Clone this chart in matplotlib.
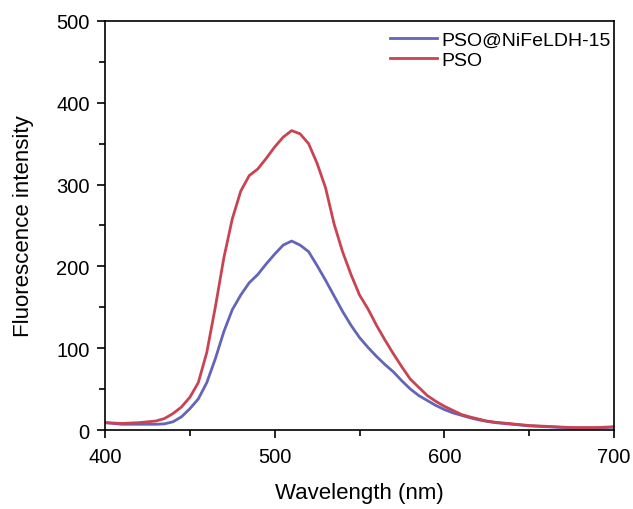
import numpy as np
import matplotlib.pyplot as plt
from matplotlib.ticker import MultipleLocator

plt.rcParams['font.family'] = ['Liberation Sans', 'DejaVu Sans']

# Longitud de onda (nm), paso de 5 nm
wavelength = list(range(400, 705, 5))

# PSO@NiFeLDH-15
nifeldh = [9, 8, 7, 7, 7, 7, 7, 7.5, 10, 16,
           26, 38, 58, 87, 120, 147, 165, 180, 190, 203,
           215, 226, 231, 226, 218, 201, 183, 164, 145, 128,
           113, 101, 90, 80, 71, 60, 50, 42, 36, 30,
           25, 21, 18, 15, 12.5, 10.5, 9, 8, 7, 6,
           5, 4.5, 4, 3.5, 3, 2.5, 2.5, 2.5, 2.5, 3,
           3.5]

# PSO
pso = [9, 8.5, 8, 8.5, 9, 10, 11, 14, 20, 28,
       40, 58, 95, 150, 210, 258, 292, 311, 319, 332,
       346, 358, 366, 362, 350, 326, 296, 252, 218, 190,
       165, 148, 128, 110, 93, 77, 62, 52, 42, 35,
       29, 24, 19, 16, 13.5, 11, 9.5, 8.5, 7.5, 6.5,
       5.5, 5, 4.5, 4, 3.5, 3, 3, 3, 3, 3.5,
       4]

fig = plt.figure(figsize=(6.33, 5.10), dpi=100)
ax = fig.add_axes([0.1659, 0.1549, 0.8041, 0.802])

ax.plot(wavelength, nifeldh, color='#6464b8', lw=2, label='PSO@NiFeLDH-15')
ax.plot(wavelength, pso, color='#c84452', lw=2, label='PSO')

ax.set_xlim(400, 700)
ax.set_ylim(0, 500)
ax.xaxis.set_major_locator(MultipleLocator(100))
ax.xaxis.set_minor_locator(MultipleLocator(50))
ax.yaxis.set_major_locator(MultipleLocator(100))
ax.yaxis.set_minor_locator(MultipleLocator(50))
ax.tick_params(which='major', direction='out', length=6, width=1.2, labelsize=14.5)
ax.tick_params(which='minor', direction='out', length=4.5, width=1.2)
ax.tick_params(axis='x', which='major', pad=6)
ax.tick_params(axis='y', which='major', pad=5)
for s in ax.spines.values():
    s.set_linewidth(1.2)

ax.set_xlabel('Wavelength (nm)', fontsize=16, labelpad=12)
ax.set_ylabel('Fluorescence intensity', fontsize=16, labelpad=16)

ax.legend(loc='upper right', bbox_to_anchor=(1.012, 1.0), frameon=False, fontsize=14,
          handlelength=2.4, handletextpad=0.2, labelspacing=0.15, borderaxespad=0.1)

fig.savefig('out.png', dpi=100)
